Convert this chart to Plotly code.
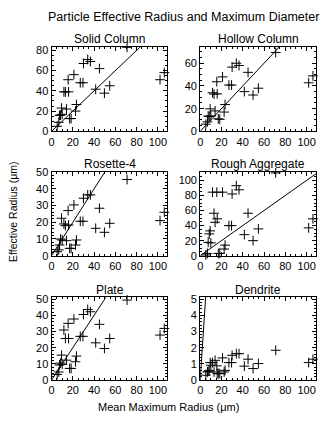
import plotly.graph_objects as go

# Shared x values: mean maximum radius (um)
mean_max_radius = [5.3, 6.8, 7.5, 8.5, 9.4, 10, 11.6, 13, 14, 15.6, 16, 17, 18.4, 21,
                   22.5, 23.4, 27, 29.5, 30, 34, 36.5, 41.5, 45, 49.7, 54.7, 71, 102, 106]

solid_column = [5, 9, 15.8, 16, 23, 16.8, 39, 39, 22, 51, 39, 12.6, 12.6, 56,
                20, 26.5, 48, 48, 67, 71, 69, 41.6, 62, 37.7, 45, 83, 51, 58]
hollow_column = [6.3, 8.3, 13.5, 13, 19.8, 13.5, 34, 32.8, 18, 43.7, 33, 11, 10.6, 48,
                 17, 23.6, 40.8, 40.8, 56.6, 60, 58, 35, 52, 32, 38, 69.5, 42.8, 48.9]
rosette_4 = [2.4, 3.5, 6.4, 10, 22.4, 9.4, 19, 18, 9, 27, 18.4, 4.4, 4.4, 30.4,
             6.4, 9.4, 20.6, 20.6, 34.4, 36.4, 36.4, 16.4, 28.4, 14, 19.4, 45.6, 21, 26]
rough_aggregate = [1, 3, 17.8, 29, 33, 17, 84.4, 56.4, 44.4, 84.4, 49, 3, 3, 84.4,
                   8.9, 14, 40, 40, 82, 93, 87.6, 28, 56.4, 20, 35.6, 110, 37, 49]
plate = [3.5, 5, 9.3, 10.5, 15.4, 9.7, 30.9, 25.7, 12.3, 35, 25.7, 7.2, 7.2, 37.7,
         11.3, 14.8, 27, 27, 40.5, 43.6, 42.2, 23, 34.4, 19.5, 25.7, 49.4, 27.8, 31.9]
dendrite = [0.3, 0.5, 0.55, 0.6, 1.08, 0.92, 1.08, 0.5, 1.22, 0.88, 0.4, 0.4, 0.4, 1.37,
            0.5, 0.6, 1.08, 1.08, 1.53, 1.63, 1.63, 0.86, 1.29, 0.71, 1.02, 1.84, 1.08, 1.29]

panel_titles = ["Solid Column", "Hollow Column", "Rosette-4", "Rough Aggregate", "Plate", "Dendrite"]
panel_data = [solid_column, hollow_column, rosette_4, rough_aggregate, plate, dendrite]
y_max = [83.5, 74.5, 50, 111, 51, 5.1]
y_dtick = [20, 20, 10, 20, 10, 1]
y_minor = [5, 5, 2, 5, 2, 0.2]
x_max = 109
one_to_one = [0, 200]

W, H = 331, 423
col_px = [(49, 166), (199, 316)]
row_px = [(42, 129), (171, 257), (300, 385)]
FONT = "Liberation Sans, Arial, sans-serif"

fig = go.Figure()
annotations = []
for i, (title, ys) in enumerate(zip(panel_titles, panel_data)):
    r, c = divmod(i, 2)
    n = i + 1
    xa = "x" if n == 1 else f"x{n}"
    ya = "y" if n == 1 else f"y{n}"
    fig.add_trace(go.Scatter(x=mean_max_radius, y=ys, mode="markers",
                             marker=dict(symbol="cross-thin", size=7,
                                         line=dict(color="black", width=1)),
                             xaxis=xa, yaxis=ya, showlegend=False, cliponaxis=False))
    fig.add_trace(go.Scatter(x=one_to_one, y=one_to_one, mode="lines",
                             line=dict(color="black", width=1),
                             xaxis=xa, yaxis=ya, showlegend=False))
    x0, x1 = col_px[c]
    y0, y1 = row_px[r]
    common = dict(showline=True, linecolor="black", linewidth=1, mirror="allticks",
                  ticks="inside", ticklen=4, tickcolor="black", showgrid=False,
                  zeroline=False, tickfont=dict(family=FONT, size=11, color="black"))
    xkey = "xaxis" if n == 1 else f"xaxis{n}"
    ykey = "yaxis" if n == 1 else f"yaxis{n}"
    fig.update_layout(**{
        xkey: dict(domain=[x0 / W, x1 / W], range=[0, x_max], dtick=20, anchor=ya,
                   minor=dict(dtick=5, ticks="inside", ticklen=2, tickcolor="black"),
                   **common),
        ykey: dict(domain=[1 - y1 / H, 1 - y0 / H], range=[0, y_max[i]], dtick=y_dtick[i],
                   anchor=xa,
                   minor=dict(dtick=y_minor[i], ticks="inside", ticklen=2, tickcolor="black"),
                   **common),
    })
    annotations.append(dict(text=title, x=(x0 + x1) / 2 / W, y=1 - (y0 - 8) / H,
                            xref="paper", yref="paper", showarrow=False,
                            xanchor="center", yanchor="middle",
                            font=dict(family=FONT, size=12, color="black")))

annotations.append(dict(text="Particle Effective Radius and Maximum Diameter",
                        x=182.5 / W, y=1 - 11 / H, xref="paper", yref="paper",
                        showarrow=False, xanchor="center", yanchor="middle",
                        font=dict(family=FONT, size=12.5, color="black")))
annotations.append(dict(text="Mean Maximum Radius (μm)", x=167 / W, y=1 - 413 / H,
                        xref="paper", yref="paper", showarrow=False,
                        xanchor="center", yanchor="middle",
                        font=dict(family=FONT, size=11, color="black")))
annotations.append(dict(text="Effective Radius (μm)", x=10 / W, y=1 - 212 / H,
                        xref="paper", yref="paper", showarrow=False, textangle=-90,
                        xanchor="center", yanchor="middle",
                        font=dict(family=FONT, size=10.5, color="black")))

fig.update_layout(width=W, height=H, margin=dict(l=0, r=0, t=0, b=0),
                  paper_bgcolor="white", plot_bgcolor="white",
                  annotations=annotations)
fig.write_html("out.html")
